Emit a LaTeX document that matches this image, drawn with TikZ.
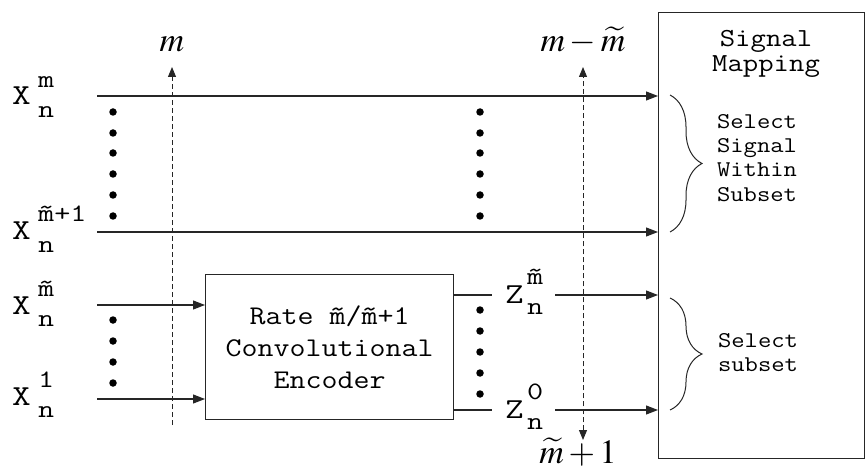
\documentclass[tikz,border=0pt]{standalone}
\usepackage{mathptmx}
\usepackage{fontspec}
\newfontfamily\cour[FakeStretch=1.15]{Latin Modern Mono}
\newfontfamily\courw[FakeStretch=1.25]{Latin Modern Mono}
\usetikzlibrary{arrows.meta,decorations.pathreplacing}
\begin{document}
\begin{tikzpicture}[x=1pt,y=-1pt,
  ln/.style={line width=1.1pt, draw=black!85},
  arr/.style={ln, -{Triangle[length=12pt,width=9pt]}},
  dashln/.style={line width=1pt, draw=black!85, dash pattern=on 5pt off 3pt},
  tipu/.style={-{Triangle[length=10pt,width=8pt]}},
  tipb/.style={{Triangle[length=10pt,width=8pt]}-{Triangle[length=10pt,width=8pt]}},
  dot/.style={circle, fill=black, inner sep=0pt, minimum size=7.5pt},
  big/.style={font=\courw\fontsize{29}{29}\selectfont, inner sep=0pt, anchor=base west},
  scr/.style={font=\courw\fontsize{25}{25}\selectfont, inner sep=0pt, anchor=base west},
  mth/.style={font=\fontsize{34}{36}\selectfont, inner sep=0pt, anchor=base},
  ttl/.style={font=\cour\fontsize{26}{27}\selectfont, inner sep=0pt, anchor=base},
  sel/.style={font=\cour\fontsize{22.5}{24}\selectfont, inner sep=0pt, anchor=base},
  brc/.style={line width=1pt, draw=black!85, decorate, decoration={brace, amplitude=32pt}},
]
\useasboundingbox (0,0) rectangle (866,470);

% boxes
\node[draw=black!85, line width=1.1pt, minimum width=206pt, minimum height=446pt,
      inner sep=0pt, anchor=north west] (map) at (658,12) {};
\node[draw=black!85, line width=1.1pt, minimum width=248pt, minimum height=145pt,
      inner sep=0pt, anchor=north west, align=center,
      font=\cour\fontsize{27}{32}\selectfont] (enc) at (205,274)
      {Rate \~{m}/\~{m}+1\\Convolutional\\Encoder};

% texts in the mapping box
\node[ttl] (t1) at (766,47) {Signal};
\node[ttl] (t2) at (766,72) {Mapping};
\node[sel] (s1) at (757,129) {Select};
\node[sel] (s2) at (757,153) {Signal};
\node[sel] (s3) at (757,177) {Within};
\node[sel] (s4) at (757,201) {Subset};
\node[sel] (s5) at (758,347) {Select};
\node[sel] (s6) at (758,371) {subset};

% braces
\coordinate (br1t) at (670,95);
\coordinate (br1b) at (670,232);
\coordinate (br2t) at (670,298);
\coordinate (br2b) at (670,410);
\draw[brc] (br1t) -- (br1b);
\draw[brc] (br2t) -- (br2b);

% input labels
\node[big] (xa) at (12,105) {X};
\node[scr] (xa-sup) at (38,88) {m};
\node[scr] (xa-sub) at (38,118) {n};
\node[big] (xb) at (12,240) {X};
\node[scr] (xb-sup) at (38,222) {\~{m}+1};
\node[scr] (xb-sub) at (38,252) {n};
\node[big] (xc) at (12,314) {X};
\node[scr] (xc-sup) at (38,296) {\~{m}};
\node[scr] (xc-sub) at (38,326) {n};
\node[big] (xd) at (12,405) {X};
\node[scr] (xd-sup) at (38,387) {1};
\node[scr] (xd-sub) at (38,417) {n};

% output labels
\node[big] (za) at (505,303) {Z};
\node[scr] (za-sup) at (527,284) {\~{m}};
\node[scr] (za-sub) at (527,314) {n};
\node[big] (zb) at (505,418) {Z};
\node[scr] (zb-sup) at (527,399) {0};
\node[scr] (zb-sub) at (527,429) {n};

% connectors
\coordinate (a1) at (97,96);
\coordinate (a2) at (97,232);
\coordinate (b1) at (97,305);
\coordinate (b2) at (97,399);
\coordinate (o1) at (492,295);
\coordinate (o2) at (492,410);
\coordinate (z1) at (555,295);
\coordinate (z2) at (555,410);
\draw[arr] (a1) -- (a1 -| map.west);
\draw[arr] (a2) -- (a2 -| map.west);
\draw[arr] (b1) -- (b1 -| enc.west);
\draw[arr] (b2) -- (b2 -| enc.west);
\draw[ln] (o1 -| enc.east) -- (o1);
\draw[ln] (o2 -| enc.east) -- (o2);
\draw[arr] (z1) -- (z1 -| map.west);
\draw[arr] (z2) -- (z2 -| map.west);

% dashed cut lines
\coordinate (d1t) at (172,67);
\coordinate (d1b) at (172,425);
\coordinate (d2t) at (583,67);
\coordinate (d2b) at (583,440);
\draw[dashln, tipu] (d1b) -- (d1t);
\draw[dashln, tipb] (d2b) -- (d2t);
\node[mth] (lm) at (172,52) {$m$};
\node[mth] (lmm) at (583,52) {$m-\widetilde{m}$};
\node[mth] (lmp) at (578,463) {$\widetilde{m}+1$};

% dots
\foreach \yy [count=\i] in {112,133,153,174,195,216} {
  \node[dot] (dl\i) at (113,\yy) {};
  \node[dot] (dm\i) at (480,\yy) {};
}
\foreach \yy [count=\i] in {320,341,362,383} {
  \node[dot] (dbl\i) at (113,\yy) {};
}
\foreach \yy [count=\i] in {310,331,352,373,394} {
  \node[dot] (dbr\i) at (480,\yy) {};
}
\end{tikzpicture}
\end{document}
